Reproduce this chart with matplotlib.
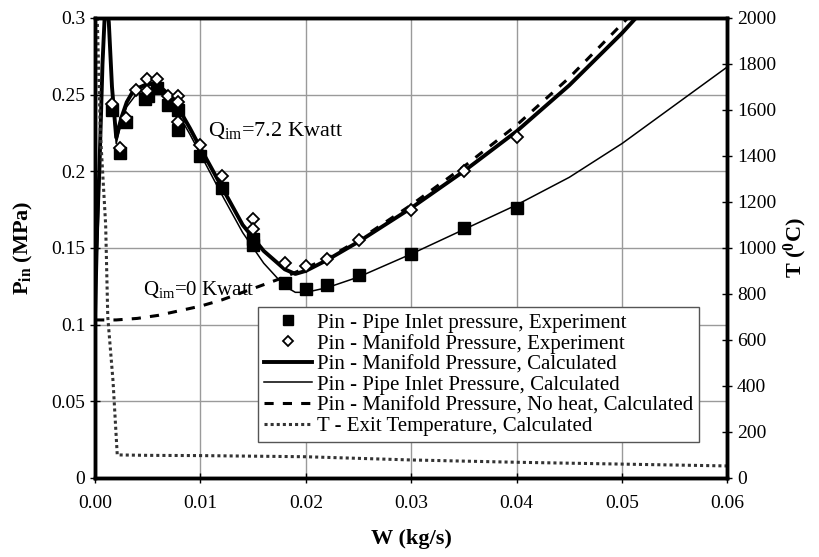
import matplotlib
matplotlib.use("Agg")
import matplotlib.pyplot as plt
from matplotlib.lines import Line2D

plt.rcParams['font.family'] = ['Liberation Serif', 'DejaVu Serif']
plt.rcParams['mathtext.default'] = 'regular'

# experiment, pipe inlet pressure (squares)
w_pipe_exp = [0.0016, 0.0024, 0.0029, 0.0047, 0.005, 0.0059, 0.0069, 0.0079, 0.0079,
              0.01, 0.012, 0.015, 0.015, 0.018, 0.02, 0.022, 0.025, 0.03, 0.035, 0.04]
p_pipe_exp = [0.240, 0.212, 0.232, 0.247, 0.249, 0.254, 0.243, 0.240, 0.227,
              0.210, 0.189, 0.156, 0.152, 0.127, 0.123, 0.126, 0.132, 0.146, 0.163, 0.176]

# experiment, manifold pressure (diamonds)
w_man_exp = [0.0016, 0.0024, 0.0029, 0.0039, 0.0049, 0.0049, 0.0059, 0.0069, 0.0079, 0.0079,
             0.0079, 0.01, 0.012, 0.015, 0.015, 0.018, 0.02, 0.022, 0.025, 0.03, 0.035, 0.04]
p_man_exp = [0.244, 0.215, 0.235, 0.253, 0.260, 0.252, 0.260, 0.249, 0.249, 0.245,
             0.232, 0.217, 0.197, 0.169, 0.162, 0.140, 0.138, 0.143, 0.155, 0.175, 0.200, 0.222]

# calculated, manifold pressure (thick line)
w_man_calc = [0.0001, 0.0004, 0.0007, 0.001, 0.0013, 0.0016, 0.002, 0.0025, 0.003, 0.0035,
              0.004, 0.005, 0.006, 0.007, 0.008, 0.009, 0.01, 0.012, 0.014, 0.016, 0.018,
              0.019, 0.02, 0.022, 0.025, 0.03, 0.035, 0.04, 0.045, 0.05, 0.052]
p_man_calc = [0.149, 0.200, 0.270, 0.315, 0.297, 0.255, 0.222, 0.235, 0.245, 0.251,
              0.254, 0.257, 0.256, 0.250, 0.240, 0.228, 0.215, 0.190, 0.165, 0.148, 0.136,
              0.133, 0.135, 0.142, 0.154, 0.176, 0.200, 0.226, 0.256, 0.290, 0.305]

# calculated, pipe inlet pressure (thin line)
w_pipe_calc = [0.0001, 0.0004, 0.0007, 0.001, 0.0013, 0.0016, 0.002, 0.0025, 0.003, 0.004,
               0.005, 0.006, 0.007, 0.008, 0.009, 0.01, 0.012, 0.014, 0.016, 0.018, 0.019,
               0.02, 0.022, 0.025, 0.03, 0.035, 0.04, 0.045, 0.05, 0.055, 0.06]
p_pipe_calc = [0.105, 0.190, 0.265, 0.310, 0.295, 0.252, 0.218, 0.232, 0.242, 0.251,
               0.254, 0.253, 0.246, 0.236, 0.224, 0.211, 0.185, 0.160, 0.140, 0.125, 0.121,
               0.121, 0.124, 0.131, 0.146, 0.162, 0.178, 0.196, 0.218, 0.243, 0.268]

# calculated, manifold pressure, no heat (dashed)
w_noheat = [0.0, 0.002, 0.004, 0.006, 0.008, 0.01, 0.012, 0.014, 0.016, 0.018, 0.02,
            0.022, 0.025, 0.03, 0.035, 0.04, 0.045, 0.05, 0.052]
p_noheat = [0.103, 0.103, 0.104, 0.106, 0.109, 0.112, 0.116, 0.121, 0.126, 0.131, 0.137,
            0.143, 0.155, 0.178, 0.203, 0.230, 0.261, 0.296, 0.310]

# calculated exit temperature (right axis)
w_temp = [0.0002, 0.0005, 0.001, 0.0012, 0.0017, 0.0021, 0.005, 0.01, 0.02, 0.03,
          0.04, 0.05, 0.06]
t_temp = [2000, 1500, 1100, 700, 420, 100, 98, 97, 92, 78, 68, 60, 52]

fig = plt.figure(figsize=(8.2, 5.57), dpi=100)
ax = fig.add_axes([0.116, 0.142, 0.771, 0.826])
ax2 = ax.twinx()

ax.set_xlim(0, 0.06)
ax.set_ylim(0, 0.3)
ax2.set_ylim(0, 2000)

ax.set_xticks([0, 0.01, 0.02, 0.03, 0.04, 0.05, 0.06])
ax.set_xticklabels(['0.00', '0.01', '0.02', '0.03', '0.04', '0.05', '0.06'])
ax.set_yticks([0, 0.05, 0.1, 0.15, 0.2, 0.25, 0.3])
ax.set_yticklabels(['0', '0.05', '0.1', '0.15', '0.2', '0.25', '0.3'])
ax2.set_yticks(range(0, 2001, 200))

ax.grid(True, color='#9a9a9a', linewidth=1.0)
ax.set_axisbelow(True)

for a in (ax, ax2):
    for s in a.spines.values():
        s.set_linewidth(2.5)
    a.tick_params(direction='inout', length=7, width=1, labelsize=14)
ax.tick_params(axis='x', pad=9)

# lines
ax2.plot(w_temp, t_temp, color='#333333', linestyle=(0, (1, 1)), linewidth=2.2)
ax.plot(w_noheat, p_noheat, color='black', linestyle=(0, (3, 3)), linewidth=2.2)
ax.plot(w_pipe_calc, p_pipe_calc, color='black', linewidth=1.1)
ax.plot(w_man_calc, p_man_calc, color='black', linewidth=2.8)
ax.plot(w_pipe_exp, p_pipe_exp, 's', color='black', markersize=8, zorder=5)
ax.plot(w_man_exp, p_man_exp, 'D', markerfacecolor='white', markeredgecolor='black',
        markeredgewidth=1.3, markersize=6.5, zorder=6)

ax.text(0.0107, 0.223, 'Q$_{im}$=7.2 Kwatt', fontsize=16)
ax.text(0.0045, 0.119, 'Q$_{im}$=0 Kwatt', fontsize=15)

ax.set_xlabel('W (kg/s)', fontsize=16, fontweight='bold', labelpad=12)
ax.set_ylabel('P$_{in}$ (MPa)', fontsize=16, fontweight='bold', labelpad=12)
ax2.set_ylabel('T ($^{0}$C)', fontsize=16, fontweight='bold', labelpad=4)

handles = [
    Line2D([], [], marker='s', color='black', linestyle='none', markersize=7),
    Line2D([], [], marker='D', markerfacecolor='white', markeredgecolor='black',
           markeredgewidth=1.3, linestyle='none', markersize=5.5),
    Line2D([], [], color='black', linewidth=2.8),
    Line2D([], [], color='black', linewidth=1.1),
    Line2D([], [], color='black', linestyle=(0, (3, 3)), linewidth=2.2),
    Line2D([], [], color='#333333', linestyle=(0, (1, 1)), linewidth=2.2),
]
labels = [
    'Pin - Pipe Inlet pressure, Experiment',
    'Pin - Manifold Pressure, Experiment',
    'Pin - Manifold Pressure, Calculated',
    'Pin - Pipe Inlet Pressure, Calculated',
    'Pin - Manifold Pressure, No heat, Calculated',
    'T - Exit Temperature, Calculated',
]
leg = ax2.legend(handles, labels, loc='upper left', bbox_to_anchor=(0.258, 0.372),
                 fontsize=15, frameon=True, fancybox=False, edgecolor='#555555',
                 framealpha=1, handlelength=2.3, handletextpad=0.2, borderpad=0.3,
                 labelspacing=0.05, borderaxespad=0)
leg.get_frame().set_linewidth(1.0)

fig.savefig('out.png', dpi=100)
